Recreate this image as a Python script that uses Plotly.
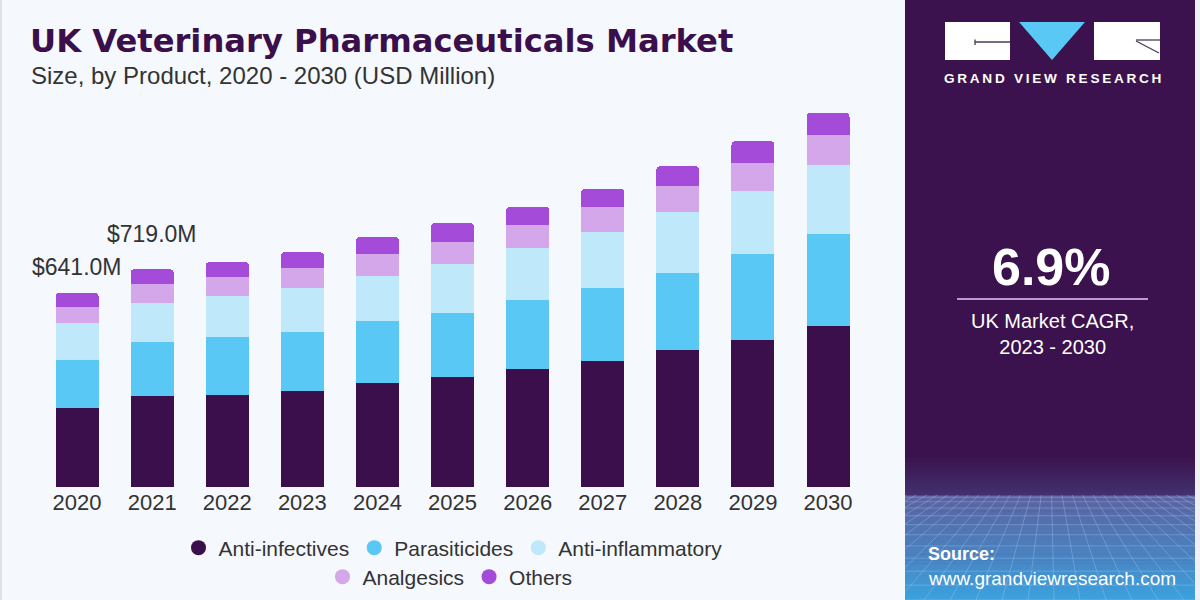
import plotly.graph_objects as go

# ---------------- data ----------------
years = ['2020', '2021', '2022', '2023', '2024', '2025', '2026', '2027', '2028', '2029', '2030']
anti_infectives = [261, 299, 305, 317, 343, 363, 390, 416, 451, 484, 531]
parasiticides = [158, 180, 189, 195, 205, 212, 227, 242, 256, 286, 305]
anti_inflammatory = [124, 129, 136, 146, 148, 163, 172, 185, 201, 209, 226]
analgesics = [53, 61, 64, 64, 73, 72, 77, 82, 85, 91, 102]
others = [45, 50, 49, 53, 57, 62, 59, 60, 66, 72, 71]

series_names = ['Anti-infectives', 'Parasiticides', 'Anti-inflammatory', 'Analgesics', 'Others']
series_values = [anti_infectives, parasiticides, anti_inflammatory, analgesics, others]
series_colors = ['#3a0f4b', '#5ac8f4', '#bfe8fa', '#d4a6ea', '#a54bd9']

label_years = ['2020', '2021']
label_values = [641.0, 719.0]
label_shifts = [26, 35]

cagr_text = '6.9%'

W, H = 1200, 600


def px(x):
    return x / W


def py(y):
    return 1 - y / H


BG = '#f5f8fc'
PANEL = '#3b124d'
TXT = '#333333'
FONT = 'Liberation Sans, Arial, sans-serif'

fig = go.Figure()

for name, vals, col in zip(series_names, series_values, series_colors):
    fig.add_trace(go.Bar(x=years, y=vals, name=name, marker=dict(color=col, line=dict(width=0)),
                         showlegend=False, hoverinfo='x+y+name'))

# legend entries (circle symbols) on a hidden helper axis
for i, (name, col) in enumerate(zip(series_names, series_colors)):
    fig.add_trace(go.Scatter(x=[0], y=[0], mode='markers', name=name, xaxis='x2', yaxis='y2',
                             marker=dict(color=col, size=15, symbol='circle'), hoverinfo='skip',
                             legend='legend' if i < 3 else 'legend2', showlegend=True))

shapes = []
annotations = []

# left border
shapes.append(dict(type='rect', xref='paper', yref='paper', x0=0, x1=px(2), y0=0, y1=1,
                   fillcolor='#dde1e8', line=dict(width=0), layer='below'))
# right panel
shapes.append(dict(type='rect', xref='paper', yref='paper', x0=px(905), x1=px(1195), y0=0, y1=1,
                   fillcolor=PANEL, line=dict(width=0), layer='below'))
shapes.append(dict(type='rect', xref='paper', yref='paper', x0=px(1195), x1=1, y0=0, y1=1,
                   fillcolor='#eef0f6', line=dict(width=0), layer='below'))


def hex2rgb(h):
    h = h.lstrip('#')
    return [int(h[i:i + 2], 16) for i in (0, 2, 4)]


def lerp(c1, c2, t):
    a, b = hex2rgb(c1), hex2rgb(c2)
    return 'rgb(%d,%d,%d)' % tuple(round(a[i] + (b[i] - a[i]) * t) for i in range(3))


stops = [(455, PANEL), (495, '#43306f'), (496, '#5b63a1'), (545, '#4d7dbb'), (600, '#3ba2de')]
for (ya, ca), (yb, cb) in zip(stops[:-1], stops[1:]):
    n = max(1, int((yb - ya) / 3))
    for k in range(n):
        y0 = ya + (yb - ya) * k / n
        y1 = ya + (yb - ya) * (k + 1) / n
        shapes.append(dict(type='rect', xref='paper', yref='paper', x0=px(905), x1=px(1195),
                           y0=py(y1 + 0.5), y1=py(y0), fillcolor=lerp(ca, cb, (k + 0.5) / n),
                           line=dict(width=0), layer='below'))

grid_col = 'rgba(175,200,245,0.35)'
for k in range(1, 12):
    y = 495 + 105 * (k / 11) ** 1.6
    shapes.append(dict(type='line', xref='paper', yref='paper', x0=px(905), x1=px(1195),
                       y0=py(y), y1=py(y), line=dict(color=grid_col, width=1), layer='below'))


def clip_seg(x0, y0, x1, y1, xmin, xmax):
    if (x0 < xmin and x1 < xmin) or (x0 > xmax and x1 > xmax):
        return None

    def at(x):
        t = (x - x0) / (x1 - x0)
        return y0 + (y1 - y0) * t
    if x0 < xmin:
        y0, x0 = at(xmin), xmin
    elif x0 > xmax:
        y0, x0 = at(xmax), xmax
    if x1 < xmin:
        y1, x1 = at(xmin), xmin
    elif x1 > xmax:
        y1, x1 = at(xmax), xmax
    return x0, y0, x1, y1


for xb in range(560, 1560, 26):
    xh = 1050 + (xb - 1050) * 0.4
    seg = clip_seg(xh, 495, xb, 600, 905, 1195)
    if seg:
        a, b, c, d = seg
        shapes.append(dict(type='line', xref='paper', yref='paper', x0=px(a), y0=py(b), x1=px(c), y1=py(d),
                           line=dict(color=grid_col, width=1), layer='below'))

# logo
shapes.append(dict(type='rect', xref='paper', yref='paper', x0=px(945), x1=px(1010), y0=py(60), y1=py(22),
                   fillcolor='white', line=dict(width=0)))
shapes.append(dict(type='rect', xref='paper', yref='paper', x0=px(1094), x1=px(1160), y0=py(60), y1=py(22),
                   fillcolor='white', line=dict(width=0)))
shapes.append(dict(type='path', xref='paper', yref='paper',
                   path='M%f,%f L%f,%f L%f,%f Z' % (px(1019), py(22), px(1085), py(22), px(1052), py(60)),
                   fillcolor='#5ac8f4', line=dict(width=0)))
for (a, b, c, d) in [(975, 42, 1010, 42), (975, 39.5, 975, 45), (1136, 40, 1160, 40), (1136, 41, 1159, 53)]:
    shapes.append(dict(type='line', xref='paper', yref='paper', x0=px(a), y0=py(b), x1=px(c), y1=py(d),
                       line=dict(color='#4a3a55', width=1.3)))

annotations.append(dict(xref='paper', yref='paper', x=px(1052), y=py(79), xanchor='center', yanchor='middle',
                        text='\u2009'.join('GRAND VIEW RESEARCH'), showarrow=False,
                        font=dict(family=FONT, size=13.6, color='white', weight='bold')))

# CAGR block
annotations.append(dict(xref='paper', yref='paper', x=px(1051), y=py(267), xanchor='center', yanchor='middle',
                        text=cagr_text, showarrow=False,
                        font=dict(family=FONT, size=52, color='white', weight='bold')))
shapes.append(dict(type='line', xref='paper', yref='paper', x0=px(957), x1=px(1148), y0=py(299), y1=py(299),
                   line=dict(color='#b99bd2', width=2)))
annotations.append(dict(xref='paper', yref='paper', x=px(1052), y=py(334), xanchor='center', yanchor='middle',
                        text='UK Market CAGR,<br>2023 - 2030', showarrow=False,
                        font=dict(family=FONT, size=20, color='white')))

# source
annotations.append(dict(xref='paper', yref='paper', x=px(926), y=py(554), xanchor='left', yanchor='middle',
                        text='<b>Source:</b>', showarrow=False,
                        font=dict(family=FONT, size=18, color='white')))
annotations.append(dict(xref='paper', yref='paper', x=px(926), y=py(578), xanchor='left', yanchor='middle',
                        text='www.grandviewresearch.com', showarrow=False,
                        font=dict(family=FONT, size=19, color='white')))

# titles
annotations.append(dict(xref='paper', yref='paper', x=px(28), y=py(41), xanchor='left', yanchor='middle',
                        text='UK Veterinary Pharmaceuticals Market', showarrow=False,
                        font=dict(family='DejaVu Sans, sans-serif', size=32.2, color='#3a0f4b', weight='bold')))
annotations.append(dict(xref='paper', yref='paper', x=px(29), y=py(75), xanchor='left', yanchor='middle',
                        text='Size, by Product, 2020 - 2030 (USD Million)', showarrow=False,
                        font=dict(family=FONT, size=24, color=TXT)))

# value labels (category axes take the category index)
for yr, v, s in zip(label_years, label_values, label_shifts):
    annotations.append(dict(xref='x', yref='y', x=years.index(yr), y=v, xanchor='center', yanchor='middle',
                            yshift=s, text='$%.1fM' % v, showarrow=False,
                            font=dict(family=FONT, size=23, color=TXT)))

fig.update_layout(
    width=W, height=H, autosize=False,
    margin=dict(l=0, r=0, t=0, b=0, autoexpand=False),
    paper_bgcolor=BG, plot_bgcolor='rgba(0,0,0,0)',
    barmode='stack', bargap=0.427, barcornerradius=4,
    xaxis=dict(domain=[px(39.5), px(865.6)], type='category', categoryorder='array', categoryarray=years,
               range=[-0.5, 10.5], showgrid=False, zeroline=False, automargin=False,
               showline=False, ticks='', tickfont=dict(family=FONT, size=22, color=TXT), fixedrange=True),
    yaxis=dict(domain=[py(487), py(100)], range=[0, 1278], visible=False, fixedrange=True, automargin=False),
    xaxis2=dict(domain=[0.98, 0.99], anchor='y2', visible=False, range=[10, 11]),
    yaxis2=dict(domain=[0.98, 0.99], anchor='x2', visible=False, range=[10, 11]),
    legend=dict(orientation='h', x=px(453), xanchor='center', y=py(548), yanchor='middle',
                traceorder='normal', bgcolor='rgba(0,0,0,0)', font=dict(family=FONT, size=21, color=TXT)),
    legend2=dict(orientation='h', x=px(450), xanchor='center', y=py(577), yanchor='middle',
                 traceorder='normal', bgcolor='rgba(0,0,0,0)', font=dict(family=FONT, size=21, color=TXT)),
    shapes=shapes, annotations=annotations,
    showlegend=True,
)

fig.write_html('out.html')
